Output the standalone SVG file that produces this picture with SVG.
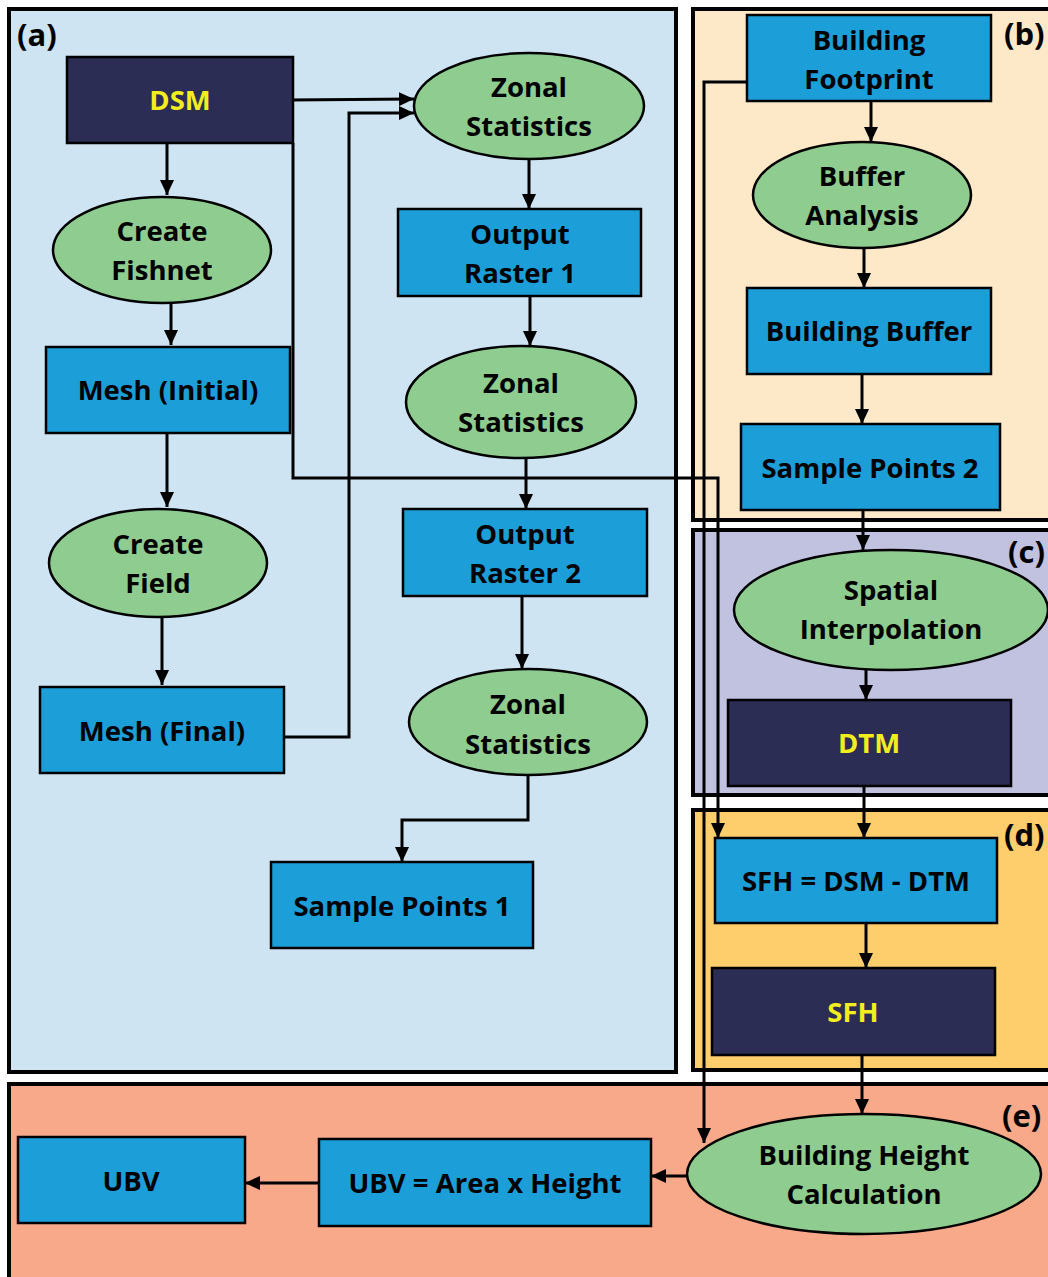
<svg xmlns="http://www.w3.org/2000/svg" width="1048" height="1277" viewBox="0 0 1048 1277">
<defs>
<marker id="ah" markerUnits="userSpaceOnUse" markerWidth="16" markerHeight="14" refX="15" refY="7" orient="auto">
<path d="M0,0 L15,7 L0,14 Z" fill="#000"/>
</marker>
<style>
.panel{stroke:#000;stroke-width:4}
.box{fill:#1c9fd9;stroke:#000;stroke-width:2.5}
.dark{fill:#2c2d54;stroke:#000;stroke-width:2.5}
.ell{fill:#8fcc8f;stroke:#000;stroke-width:2.5}
.t{font-family:"Open Sans",Lato,sans-serif;font-weight:bold;font-size:27.5px;fill:#000;text-anchor:middle}
.y{fill:#f2ee1e}
.lbl{font-family:"Open Sans",Lato,sans-serif;font-weight:bold;font-size:31px;fill:#000}
.c{fill:none;stroke:#000;stroke-width:3}
</style>
</defs>
<rect width="1048" height="1277" fill="#fff"/>
<g id="panels">
<rect class="panel" x="9" y="9" width="667" height="1063" fill="#cfe4f2"/>
<rect class="panel" x="693" y="9" width="370" height="511" fill="#fde9c8"/>
<rect class="panel" x="693" y="530" width="370" height="265" fill="#c1c1e0"/>
<rect class="panel" x="693" y="810" width="370" height="260" fill="#fecd6c"/>
<rect class="panel" x="9" y="1084" width="1054" height="200" fill="#f7a98a"/>
<text class="lbl" x="17" y="46">(a)</text>
<text class="lbl" x="1004" y="45">(b)</text>
<text class="lbl" x="1008" y="563">(c)</text>
<text class="lbl" x="1004" y="846">(d)</text>
<text class="lbl" x="1002" y="1127">(e)</text>
</g>
<g id="connectors">
<path class="c" d="M289,100 L414,99" marker-end="url(#ah)"/>
<path class="c" d="M284,737 L349,737 L349,113 L414,113" marker-end="url(#ah)"/>
<path class="c" d="M167,143 L167,195" marker-end="url(#ah)"/>
<path class="c" d="M171,303 L171,345" marker-end="url(#ah)"/>
<path class="c" d="M167,433 L167,507" marker-end="url(#ah)"/>
<path class="c" d="M162,617 L162,685" marker-end="url(#ah)"/>
<path class="c" d="M293,143 L293,478 L718,478 L718,838" marker-end="url(#ah)"/>
<path class="c" d="M747,82 L704,82 L704,1143" marker-end="url(#ah)"/>
<path class="c" d="M529,159 L529,209" marker-end="url(#ah)"/>
<path class="c" d="M530,296 L530,346" marker-end="url(#ah)"/>
<path class="c" d="M526,458 L526,509" marker-end="url(#ah)"/>
<path class="c" d="M522,596 L522,669" marker-end="url(#ah)"/>
<path class="c" d="M528,775 L528,820 L402,820 L402,862" marker-end="url(#ah)"/>
<path class="c" d="M871,101 L871,142" marker-end="url(#ah)"/>
<path class="c" d="M864,248 L864,288" marker-end="url(#ah)"/>
<path class="c" d="M862,374 L862,424" marker-end="url(#ah)"/>
<path class="c" d="M863,510 L863,550" marker-end="url(#ah)"/>
<path class="c" d="M866,669 L866,700" marker-end="url(#ah)"/>
<path class="c" d="M864,786 L864,838" marker-end="url(#ah)"/>
<path class="c" d="M866,923 L866,968" marker-end="url(#ah)"/>
<path class="c" d="M862,1055 L862,1114" marker-end="url(#ah)"/>
<path class="c" d="M687,1176 L651,1176" marker-end="url(#ah)"/>
<path class="c" d="M318,1183 L245,1183" marker-end="url(#ah)"/>
</g>
<g id="dsm"><rect class="dark" x="67" y="57" width="226" height="86"/><text class="t y" x="180" y="110">DSM</text></g>
<g id="create-fishnet"><ellipse class="ell" cx="162" cy="250" rx="109" ry="53"/><text class="t" x="162" y="241">Create</text><text class="t" x="162" y="280">Fishnet</text></g>
<g id="mesh-initial"><rect class="box" x="46" y="347" width="244" height="86"/><text class="t" x="168" y="400">Mesh (Initial)</text></g>
<g id="create-field"><ellipse class="ell" cx="158" cy="563" rx="109" ry="54"/><text class="t" x="158" y="554">Create</text><text class="t" x="158" y="593">Field</text></g>
<g id="mesh-final"><rect class="box" x="40" y="687" width="244" height="86"/><text class="t" x="162" y="741">Mesh (Final)</text></g>
<g id="zonal-1"><ellipse class="ell" cx="529" cy="106" rx="115" ry="53"/><text class="t" x="529" y="97">Zonal</text><text class="t" x="529" y="136">Statistics</text></g>
<g id="output-raster-1"><rect class="box" x="398" y="209" width="243" height="87"/><text class="t" x="520" y="244">Output</text><text class="t" x="520" y="283">Raster 1</text></g>
<g id="zonal-2"><ellipse class="ell" cx="521" cy="402" rx="115" ry="56"/><text class="t" x="521" y="393">Zonal</text><text class="t" x="521" y="432">Statistics</text></g>
<g id="output-raster-2"><rect class="box" x="403" y="509" width="244" height="87"/><text class="t" x="525" y="544">Output</text><text class="t" x="525" y="583">Raster 2</text></g>
<g id="zonal-3"><ellipse class="ell" cx="528" cy="722" rx="119" ry="53"/><text class="t" x="528" y="714">Zonal</text><text class="t" x="528" y="754">Statistics</text></g>
<g id="sample-points-1"><rect class="box" x="271" y="862" width="262" height="86"/><text class="t" x="402" y="916">Sample Points 1</text></g>
<g id="building-footprint"><rect class="box" x="747" y="15" width="244" height="86"/><text class="t" x="869" y="50">Building</text><text class="t" x="869" y="89">Footprint</text></g>
<g id="buffer-analysis"><ellipse class="ell" cx="862" cy="195" rx="109" ry="53"/><text class="t" x="862" y="186">Buffer</text><text class="t" x="862" y="225">Analysis</text></g>
<g id="building-buffer"><rect class="box" x="747" y="288" width="244" height="86"/><text class="t" x="869" y="341">Building Buffer</text></g>
<g id="sample-points-2"><rect class="box" x="741" y="424" width="259" height="86"/><text class="t" x="870" y="478">Sample Points 2</text></g>
<g id="spatial-interpolation"><ellipse class="ell" cx="891" cy="610" rx="157" ry="60"/><text class="t" x="891" y="600">Spatial</text><text class="t" x="891" y="639">Interpolation</text></g>
<g id="dtm"><rect class="dark" x="728" y="700" width="283" height="86"/><text class="t y" x="869" y="753">DTM</text></g>
<g id="sfh-formula"><rect class="box" x="715" y="838" width="282" height="85"/><text class="t" x="856" y="891">SFH = DSM - DTM</text></g>
<g id="sfh"><rect class="dark" x="712" y="968" width="283" height="87"/><text class="t y" x="853" y="1022">SFH</text></g>
<g id="building-height"><ellipse class="ell" cx="864" cy="1174" rx="177" ry="60"/><text class="t" x="864" y="1165">Building Height</text><text class="t" x="864" y="1204">Calculation</text></g>
<g id="ubv-formula"><rect class="box" x="319" y="1139" width="332" height="87"/><text class="t" x="485" y="1193">UBV = Area x Height</text></g>
<g id="ubv"><rect class="box" x="18" y="1137" width="227" height="86"/><text class="t" x="131" y="1191">UBV</text></g>
</svg>
